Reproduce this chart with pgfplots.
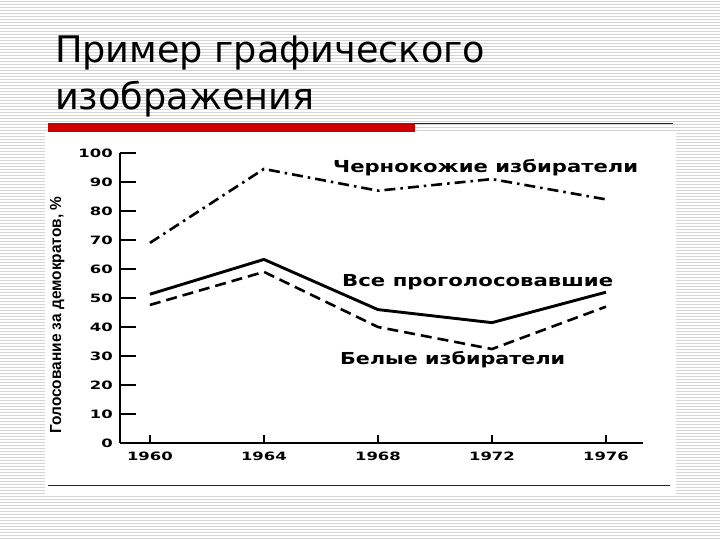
\documentclass[border=0pt]{standalone}
\usepackage{pgfplots}
\pgfplotsset{compat=1.18}
\usepackage{fontspec}
\usepackage{graphicx}
\setmainfont{Liberation Sans}
\newfontfamily\titlefont{DejaVu Sans}
\newfontfamily\chartfont{DejaVu Sans}
\definecolor{stripe}{RGB}{212,212,212}
\definecolor{barred}{RGB}{204,0,0}
\definecolor{linered}{RGB}{128,0,0}
\newcommand\tl[1]{\scalebox{1.43}[1]{\chartfont\bfseries\fontsize{11.5}{11.5}\selectfont #1}}
\begin{document}
\begin{tikzpicture}
\begin{scope}[x=1pt,y=1pt]
\path[use as bounding box] (0,0) rectangle (720,540);
\fill[white] (0,0) rectangle (720,540);
\foreach \i in {0,...,179} \fill[stripe] (0,{3*\i+1}) rectangle (720,{3*\i+2});
\fill[white] (45,45) rectangle (676,409);
\fill[barred] (48,408.3) rectangle (415,416.7);
\draw[linered, line width=1pt] (415,416.3) -- (673,416.3);
\draw[linered, line width=1pt] (48,54) -- (670,54);
\node[anchor=base west, inner sep=0pt] at (55,477.3) {\titlefont\fontsize{36.6}{36.6}\selectfont Пример графического};
\node[anchor=base west, inner sep=0pt] at (55,430) {\titlefont\fontsize{36.6}{36.6}\selectfont изображения};
\end{scope}
\begin{axis}[at={(120pt,97pt)}, anchor=south west, scale only axis,
  width=523pt, height=290pt,
  xmin=1958.95, xmax=1977.3, ymin=0, ymax=100,
  axis x line*=bottom, axis y line*=left,
  axis line style={line width=2.8pt, black},
  xtick={1960,1964,1968,1972,1976},
  xticklabels={\tl{1960},\tl{1964},\tl{1968},\tl{1972},\tl{1976}},
  ytick={0,10,...,100},
  yticklabels={\tl{0},\tl{10},\tl{20},\tl{30},\tl{40},\tl{50},\tl{60},\tl{70},\tl{80},\tl{90},\tl{100}},
  tick align=inside, major tick length=16pt,
  ytick style={line width=1.8pt, black},
  xtick style={draw=none},
  xticklabel style={anchor=north, inner sep=0pt, yshift=-9pt},
  yticklabel style={anchor=east, inner sep=0pt, xshift=-7pt},
  clip=false]
\addplot[black, line width=2.6pt, dash pattern=on 11pt off 5pt on 2.5pt off 5pt] coordinates {(1960,69)(1964,94.5)(1968,87)(1972,91)(1976,84)};
\addplot[black, line width=2.9pt] coordinates {(1960,51.3)(1964,63.3)(1968,46)(1972,41.5)(1976,52)};
\addplot[black, line width=2.6pt, dash pattern=on 11pt off 6pt] coordinates {(1960,47.6)(1964,59)(1968,40)(1972,32.4)(1976,47)};
\draw[line width=1.8pt] (axis cs:1960,0) -- ++(0pt,8pt);
\draw[line width=1.8pt] (axis cs:1964,0) -- ++(0pt,8pt);
\draw[line width=1.8pt] (axis cs:1968,0) -- ++(0pt,8pt);
\draw[line width=1.8pt] (axis cs:1972,0) -- ++(0pt,8pt);
\draw[line width=1.8pt] (axis cs:1976,0) -- ++(0pt,8pt);
\end{axis}
\begin{scope}[x=1pt,y=1pt]
\node[anchor=base west, inner sep=0pt] at (333,367) {\resizebox{305pt}{\height}{\chartfont\bfseries\fontsize{16.5}{16.5}\selectfont Чернокожие избиратели}};
\node[anchor=base west, inner sep=0pt] at (342,253) {\resizebox{271pt}{\height}{\chartfont\bfseries\fontsize{16.5}{16.5}\selectfont Все проголосовавшие}};
\node[anchor=base west, inner sep=0pt] at (340,175) {\resizebox{225pt}{\height}{\chartfont\bfseries\fontsize{16.5}{16.5}\selectfont Белые избиратели}};
\node[rotate=90, anchor=base, inner sep=0pt] at (61,225) {\resizebox{237pt}{\height}{\bfseries\fontsize{16}{16}\selectfont Голосование за демократов, \%}};
\end{scope}
\end{tikzpicture}
\end{document}
